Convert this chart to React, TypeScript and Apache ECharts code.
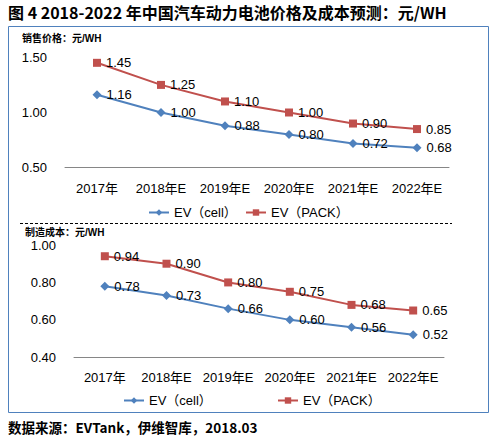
import React, { useEffect, useRef } from "react";
import * as echarts from "echarts";

const categories = ["2017年", "2018年E", "2019年E", "2020年E", "2021年E", "2022年E"];
const priceCell = [1.16, 1.0, 0.88, 0.8, 0.72, 0.68];
const pricePack = [1.45, 1.25, 1.1, 1.0, 0.9, 0.85];
const costCell = [0.78, 0.73, 0.66, 0.6, 0.56, 0.52];
const costPack = [0.94, 0.9, 0.8, 0.75, 0.68, 0.65];
const nameCell = "EV（cell）";
const namePack = "EV（PACK）";
const titleText = "图 4 2018-2022 年中国汽车动力电池价格及成本预测：元/WH";
const sub1 = "销售价格：元/WH";
const sub2 = "制造成本：元/WH";
const sourceText = "数据来源：EVTank，伊维智库，2018.03";

const FONT = "'Liberation Sans', 'Noto Sans CJK SC', sans-serif";
const BLUE = "#4F81BD";
const RED = "#C0504D";

export default function App() {
  const ref = useRef<HTMLDivElement>(null);
  useEffect(() => {
    if (!ref.current) return;
    const chart = echarts.init(ref.current, null, { renderer: "svg" });
    const label = {
      show: true,
      position: "right",
      color: "#000",
      fontSize: 13,
      fontFamily: FONT,
      formatter: (p: any) => Number(p.value).toFixed(2),
    };
    const mkSeries = (name: string, data: number[], idx: number, color: string, symbol: string, size: number) => ({
      type: "line",
      name,
      data,
      xAxisIndex: idx,
      yAxisIndex: idx,
      symbol,
      symbolSize: size,
      itemStyle: { color },
      lineStyle: { color, width: 2 },
      label,
    });
    const xAxis = (idx: number) => ({
      type: "category",
      gridIndex: idx,
      data: categories,
      axisLine: { lineStyle: { color: "#868686", width: 1 } },
      axisTick: { show: false },
      axisLabel: { color: "#000", fontSize: 13, fontFamily: FONT, margin: 14, interval: 0 },
    });
    const yAxis = (idx: number, min: number, max: number, interval: number, margin: number) => ({
      type: "value",
      gridIndex: idx,
      min,
      max,
      interval,
      splitLine: { show: false },
      axisLine: { show: false },
      axisTick: { show: false },
      axisLabel: {
        color: "#000",
        fontSize: 13,
        fontFamily: FONT,
        margin,
        formatter: (v: number) => v.toFixed(2),
      },
    });
    const legend = (name: string, left: number, top: number) => ({
      data: [name],
      left,
      top,
      padding: 0,
      itemWidth: 20,
      itemHeight: 8,
      itemGap: 2,
      selectedMode: false,
      textStyle: { color: "#000", fontSize: 13, fontFamily: FONT },
    });
    chart.setOption({
      animation: false,
      backgroundColor: "#fff",
      grid: [
        { left: 65, width: 384, top: 57.3, height: 110.4 },
        { left: 74, width: 370, top: 245, height: 112.3 },
      ],
      xAxis: [xAxis(0), xAxis(1)],
      yAxis: [yAxis(0, 0.5, 1.5, 0.5, 18), yAxis(1, 0.4, 1.0, 0.2, 18)],
      legend: [
        legend(nameCell, 148, 206),
        legend(namePack, 245, 206),
        legend(nameCell, 123, 394),
        legend(namePack, 277, 394),
      ],
      series: [
        mkSeries(nameCell, priceCell, 0, BLUE, "diamond", 9),
        mkSeries(namePack, pricePack, 0, RED, "rect", 8),
        mkSeries(nameCell, costCell, 1, BLUE, "diamond", 9),
        mkSeries(namePack, costPack, 1, RED, "rect", 8),
      ],
      graphic: [
        {
          type: "rect",
          shape: { x: 8.5, y: 26.5, width: 480, height: 386 },
          style: { fill: "none", stroke: BLUE, lineWidth: 1 },
          silent: true,
        },
        {
          type: "line",
          shape: { x1: 20, y1: 223.5, x2: 452, y2: 223.5 },
          style: { stroke: "#000", lineWidth: 1, lineDash: [3, 2] },
          silent: true,
        },
        {
          type: "text",
          x: 8,
          y: 12,
          style: {
            text: titleText,
            fill: "#000",
            font: "bold 16px 'Noto Sans CJK SC', sans-serif",
            verticalAlign: "middle",
          },
        },
        {
          type: "text",
          x: 22,
          y: 38,
          style: {
            text: sub1,
            fill: "#000",
            font: "bold 10px 'Liberation Sans', 'Noto Sans CJK SC', sans-serif",
            verticalAlign: "middle",
          },
        },
        {
          type: "text",
          x: 25,
          y: 232.5,
          style: {
            text: sub2,
            fill: "#000",
            font: "bold 10px 'Liberation Sans', 'Noto Sans CJK SC', sans-serif",
            verticalAlign: "middle",
          },
        },
        {
          type: "text",
          x: 8,
          y: 427,
          style: {
            text: sourceText,
            fill: "#000",
            font: "bold 13.5px 'Noto Sans CJK SC', sans-serif",
            verticalAlign: "middle",
          },
        },
      ],
    });
    return () => chart.dispose();
  }, []);
  return (
    <div
      ref={ref}
      style={{ position: "absolute", left: 0, top: 0, width: 504, height: 438, background: "#fff" }}
    />
  );
}
